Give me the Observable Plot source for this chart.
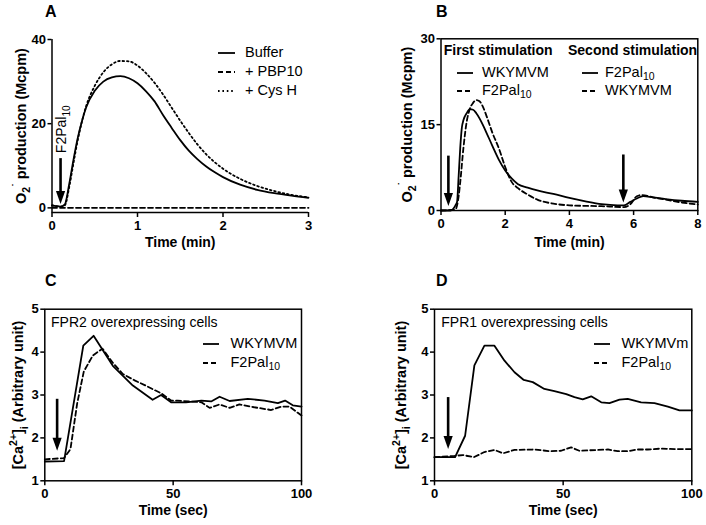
<!DOCTYPE html>
<html><head><meta charset="utf-8">
<script src="https://cdn.jsdelivr.net/npm/d3@7"></script>
<script src="https://cdn.jsdelivr.net/npm/@observablehq/plot@0.6"></script>
<style>
body{margin:0;background:#fff;}
#fig{position:relative;width:706px;height:525px;background:#fff;font-family:"Liberation Sans",Arial,Helvetica,sans-serif;color:#000;overflow:hidden;}
.t{position:absolute;white-space:nowrap;}
.t sub{font-size:72%;vertical-align:-0.28em;line-height:0;}
.sw{position:absolute;overflow:visible;}
</style></head><body><div id="fig"></div>
<script>
// ---------- Panel A data ----------
const aTime   = [0, 0.05, 0.1, 0.15, 0.2, 0.25, 0.3, 0.35, 0.4, 0.5, 0.6, 0.7, 0.8, 0.9, 1.0, 1.1, 1.2, 1.3, 1.4, 1.5, 1.6, 1.7, 1.8, 1.9, 2.0, 2.2, 2.4, 2.6, 2.8, 3.0];
const aBuffer = [0.6, 0.4, 0.3, 0.8, 5.5, 11.3, 16.5, 20.6, 23.9, 27.8, 30.0, 31.0, 31.3, 30.8, 29.6, 27.7, 25.3, 22.0, 19.0, 16.1, 13.6, 11.6, 9.9, 8.5, 7.3, 5.5, 4.3, 3.5, 2.9, 2.4];
const aCysH   = [0.6, 0.4, 0.3, 0.6, 4.8, 10.5, 16.0, 20.5, 24.2, 29.0, 32.2, 34.1, 34.9, 34.8, 33.8, 32.0, 29.7, 26.9, 23.8, 20.7, 17.8, 15.1, 12.8, 10.9, 9.3, 6.9, 5.2, 4.0, 3.1, 2.5];
const aPbpTime = [0, 0.5, 1, 1.5, 2, 2.5, 3];
const aPbp     = [0, 0, 0, 0, 0, 0, 0];
const aArrows  = [{t: 0.1, from: 11.7, to: 0.9}];
const aNote    = [{t: 0.115, v: 13, label: "F2Pal_{10}"}];
const aXTicks = [0, 1, 2, 3];
const aYTicks = [0, 20, 40];
const aXDomain = [0, 3];
const aYDomain = [-1.1, 40];

// ---------- Panel B data ----------
const bTimeSolid = [0, 0.3, 0.45, 0.5, 0.55, 0.6, 0.65, 0.7, 0.8, 0.9, 1.0, 1.1, 1.2, 1.3, 1.4, 1.6, 1.8, 2.0, 2.2, 2.4, 2.7, 3.0, 3.5, 4.0, 4.5, 5.0, 5.5, 5.7, 5.9, 6.1, 6.3, 6.6, 7.0, 7.5, 8.0];
const bSolid     = [0, 0, 0.9, 1.5, 6, 11, 14.5, 15.8, 17.0, 17.7, 17.6, 17.0, 16.1, 15.0, 13.8, 11.3, 8.9, 7.0, 5.6, 4.6, 4.0, 3.5, 2.9, 2.2, 1.6, 1.1, 0.9, 0.9, 1.5, 2.1, 2.5, 2.3, 2.0, 1.7, 1.5];
const bTimeDash  = [0, 0.45, 0.55, 0.6, 0.7, 0.8, 0.9, 1.0, 1.1, 1.2, 1.3, 1.4, 1.5, 1.6, 1.8, 2.0, 2.2, 2.4, 2.7, 3.0, 3.5, 4.0, 5.0, 5.7, 5.9, 6.1, 6.25, 6.6, 7.0, 7.5, 8.0];
const bDash      = [0, 0.2, 2.5, 5, 11, 15.5, 17.8, 18.8, 19.3, 19.1, 18.2, 16.8, 15.2, 13.6, 10.9, 7.6, 5.0, 3.9, 2.8, 1.9, 1.2, 0.9, 0.75, 0.6, 1.1, 2.5, 2.7, 2.3, 1.9, 1.4, 1.05];
const bArrows = [{t: 0.23, from: 9.5, to: 0.8}, {t: 5.68, from: 9.7, to: 1.4}];
const bXTicks = [0, 2, 4, 6, 8];
const bYTicks = [0, 15, 30];
const bXDomain = [0, 8];
const bYDomain = [0, 30];

// ---------- Panel C data ----------
const cTimeW = [0, 7.5, 15, 19, 26.5, 34.3, 42, 45.3, 49.2, 55, 61, 64.8, 68.1, 72, 79.1, 85.6, 90.8, 93.6, 96.6, 100];
const cWKY   = [1.45, 1.46, 4.15, 4.38, 3.68, 3.22, 2.89, 3.0, 2.83, 2.83, 2.87, 2.85, 2.96, 2.86, 2.91, 2.87, 2.81, 2.87, 2.76, 2.73];
const cTimeF = [0, 7.5, 10, 12.6, 15.2, 18.7, 22.5, 26.5, 30.4, 35, 38.9, 45.3, 49.2, 51.8, 61, 64.2, 68.1, 72, 75.8, 81, 88.2, 92.1, 95.3, 100];
const cF2    = [1.5, 1.53, 1.74, 2.8, 3.55, 3.92, 4.08, 3.75, 3.49, 3.34, 3.23, 3.04, 2.87, 2.87, 2.83, 2.7, 2.78, 2.7, 2.78, 2.72, 2.65, 2.73, 2.73, 2.52];
const cArrows = [{t: 4.8, from: 2.9, to: 1.7}];

// ---------- Panel D data ----------
const dTimeW = [0, 8, 11.9, 15.5, 19.4, 23.3, 27.2, 31.1, 34.7, 38.2, 42.7, 46.6, 51.2, 54.4, 57.6, 60.9, 64.8, 68, 71.9, 75.1, 80.3, 85.5, 90.7, 95.2, 100];
const dWKY   = [1.55, 1.55, 2.05, 3.69, 4.15, 4.15, 3.8, 3.53, 3.35, 3.30, 3.14, 3.09, 3.02, 2.95, 2.90, 2.97, 2.83, 2.81, 2.89, 2.91, 2.83, 2.81, 2.73, 2.64, 2.64];
const dTimeF = [0, 7.8, 11, 15.3, 19.4, 23.3, 26.6, 31.1, 38.9, 44.7, 49.2, 53.1, 56.3, 63.5, 67.4, 71.2, 75.1, 79, 82.9, 88.1, 93.3, 100];
const dF2    = [1.55, 1.58, 1.6, 1.55, 1.67, 1.72, 1.64, 1.72, 1.73, 1.69, 1.70, 1.78, 1.70, 1.72, 1.73, 1.69, 1.69, 1.73, 1.73, 1.75, 1.74, 1.74];
const dArrows = [{t: 5.3, from: 2.94, to: 1.74}];

const caXTicks = [0, 50, 100];
const caYTicks = [1, 2, 3, 4, 5];
const caXDomain = [0, 100];
const caYDomain = [1, 5];

// ---------- helpers ----------
const fig = document.getElementById("fig");
const FONT = '"Liberation Sans", Arial, Helvetica, sans-serif';
const DASH = "5,3";
const DOT = "1.6,2.8";
const rows = (xs, ys) => xs.map((x, i) => ({x, y: ys[i]}));
const headSymbol = {draw(ctx) { ctx.moveTo(0, 0); ctx.lineTo(-4.6, -13); ctx.lineTo(4.6, -13); ctx.closePath(); }};
const fmt = d => String(d);

function rich(root) {
  root.querySelectorAll("text").forEach(t => {
    const s = t.textContent;
    if (!/[_^]\{/.test(s)) return;
    const fs = parseFloat(getComputedStyle(t).fontSize) || 13;
    while (t.firstChild) t.removeChild(t.firstChild);
    let cur = 0;
    for (const p of s.split(/([_^]\{[^}]*\})/)) {
      if (!p) continue;
      const ts = document.createElementNS("http://www.w3.org/2000/svg", "tspan");
      let target = 0;
      if (p[0] === "_" || p[0] === "^") {
        ts.textContent = p.slice(2, -1);
        ts.setAttribute("font-size", (fs * 0.72) + "px");
        target = p[0] === "_" ? fs * 0.28 : -fs * 0.42;
      } else ts.textContent = p;
      if (target !== cur) { ts.setAttribute("dy", (target - cur) + "px"); cur = target; }
      t.appendChild(ts);
    }
  });
}

function makePanel(c) {
  const marks = [];
  if (c.box) marks.push(Plot.frame({stroke: "black", strokeWidth: 1.5}));
  else {
    marks.push(Plot.ruleX([c.xDomain[0]], {stroke: "black", strokeWidth: 1.5}));
    marks.push(Plot.ruleY([c.yDomain[0]], {stroke: "black", strokeWidth: 1.5}));
  }
  marks.push(Plot.axisX({ticks: c.xTicks, tickFormat: fmt, tickSize: 5, tickPadding: 3, strokeWidth: 1.5, label: null, fontSize: 13, fontWeight: "bold"}));
  marks.push(Plot.axisY({ticks: c.yTicks, tickFormat: fmt, tickSize: 4, tickPadding: 2, strokeWidth: 1.5, label: null, fontSize: 13, fontWeight: "bold"}));
  for (const s of c.series)
    marks.push(Plot.line(s.data, {x: "x", y: "y", stroke: "black", strokeWidth: 1.8, strokeDasharray: s.dash, curve: s.curve || "linear"}));
  marks.push(Plot.ruleX(c.arrows, {x: "t", y1: "from", y2: "to", stroke: "black", strokeWidth: 2.6, insetBottom: 8}));
  marks.push(Plot.dot(c.arrows, {x: "t", y: "to", symbol: headSymbol, fill: "black", stroke: "none"}));
  if (c.note) marks.push(Plot.text(c.note, {x: "t", y: "v", text: "label", rotate: -90, textAnchor: "start", lineAnchor: "middle", fontSize: 14, fontWeight: "normal"}));
  marks.push(Plot.text([c.xLabel], {text: d => d, frameAnchor: "bottom", textAnchor: "middle", lineAnchor: "middle", dy: c.xLabelDy, fontSize: 14, fontWeight: "bold"}));
  marks.push(Plot.text([c.yLabel], {text: d => d, frameAnchor: "left", textAnchor: "middle", lineAnchor: "middle", dx: c.yLabelDx, rotate: -90, fontSize: 14.5, fontWeight: "bold"}));
  const svg = Plot.plot({
    width: c.width, height: c.height,
    marginLeft: c.m[3], marginRight: c.m[1], marginTop: c.m[0], marginBottom: c.m[2],
    x: {domain: c.xDomain}, y: {domain: c.yDomain},
    style: {fontFamily: FONT, fontSize: "13px", fontWeight: "bold", color: "black", background: "transparent", overflow: "visible"},
    marks
  });
  svg.style.position = "absolute";
  svg.style.left = c.left + "px";
  svg.style.top = c.top + "px";
  fig.appendChild(svg);
  rich(svg);
}

function addText(x, baseline, html, size = 14, bold = false) {
  const el = document.createElement("div");
  el.className = "t";
  const L = Math.round(size * 1.2);
  el.style.left = x + "px";
  el.style.top = (baseline - ((L - 1.117 * size) / 2 + 0.905 * size)) + "px";
  el.style.fontSize = size + "px";
  el.style.lineHeight = L + "px";
  el.style.fontWeight = bold ? "bold" : "normal";
  el.innerHTML = html;
  fig.appendChild(el);
}
function addSwatch(x1, x2, y, dash) {
  const ns = "http://www.w3.org/2000/svg";
  const s = document.createElementNS(ns, "svg");
  s.setAttribute("class", "sw");
  s.setAttribute("width", x2 - x1);
  s.setAttribute("height", 6);
  s.style.left = x1 + "px";
  s.style.top = (y - 3) + "px";
  const l = document.createElementNS(ns, "line");
  l.setAttribute("x1", 0); l.setAttribute("x2", x2 - x1);
  l.setAttribute("y1", 3); l.setAttribute("y2", 3);
  l.setAttribute("stroke", "black"); l.setAttribute("stroke-width", 1.8);
  if (dash) l.setAttribute("stroke-dasharray", dash);
  s.appendChild(l);
  fig.appendChild(s);
}
function legendItem(x1, x2, tx, cy, dash, html) {
  addSwatch(x1, x2, cy, dash);
  addText(tx, cy + 5, html, 14.5, false);
}

const O2label = "O_{2}^{˙} production (Mcpm)";
const CaLabel = "[Ca^{2+}]_{i} (Arbitrary unit)";

// ---------- Panel A ----------
makePanel({
  left: 0, top: 0, width: 353, height: 262, m: [39, 45, 50, 51.5], box: false,
  xDomain: aXDomain, yDomain: aYDomain, xTicks: aXTicks, yTicks: aYTicks,
  series: [
    {data: rows(aPbpTime, aPbp), dash: DASH},
    {data: rows(aTime, aCysH), dash: DOT, curve: "monotone-x"},
    {data: rows(aTime, aBuffer), curve: "monotone-x"}
  ],
  arrows: aArrows, note: aNote,
  xLabel: "Time (min)", xLabelDy: 30, yLabel: O2label, yLabelDx: -30.5
});
addText(45, 16.7, "A", 16, true);
legendItem(218, 235, 245, 53, null, "Buffer");
legendItem(218, 235, 245, 72, DASH, "+ PBP10");
legendItem(218, 235, 245, 91, DOT, "+ Cys H");

// ---------- Panel B ----------
makePanel({
  left: 353, top: 0, width: 353, height: 262, m: [38.3, 8.7, 52, 87.5], box: true,
  xDomain: bXDomain, yDomain: bYDomain, xTicks: bXTicks, yTicks: bYTicks,
  series: [
    {data: rows(bTimeDash, bDash), dash: DASH, curve: "monotone-x"},
    {data: rows(bTimeSolid, bSolid), curve: "monotone-x"}
  ],
  arrows: bArrows,
  xLabel: "Time (min)", xLabelDy: 32, yLabel: O2label, yLabelDx: -34
});
addText(436, 16.7, "B", 16, true);
addText(443.7, 55.5, "First stimulation", 14, true);
addText(568, 55.5, "Second stimulation", 14, true);
legendItem(457, 473, 482, 72.5, null, "WKYMVM");
legendItem(457, 473, 482, 90.5, DASH, "F2Pal<sub>10</sub>");
legendItem(582, 598, 605, 72.5, null, "F2Pal<sub>10</sub>");
legendItem(582, 598, 605, 90.5, DASH, "WKYMVM");

// ---------- Panel C ----------
makePanel({
  left: 0, top: 262, width: 353, height: 263, m: [46.7, 52, 44.7, 44.3], box: true,
  xDomain: caXDomain, yDomain: caYDomain, xTicks: caXTicks, yTicks: caYTicks,
  series: [
    {data: rows(cTimeF, cF2), dash: DASH},
    {data: rows(cTimeW, cWKY)}
  ],
  arrows: cArrows,
  xLabel: "Time (sec)", xLabelDy: 29.5, yLabel: CaLabel, yLabelDx: -26
});
addText(45, 286, "C", 16, true);
addText(51, 327.5, "FPR2 overexpressing cells", 14, false);
legendItem(203, 219, 230.5, 343.5, null, "WKYMVM");
legendItem(203, 219, 230.5, 363, DASH, "F2Pal<sub>10</sub>");

// ---------- Panel D ----------
makePanel({
  left: 353, top: 262, width: 353, height: 263, m: [46.7, 14.7, 44.7, 81], box: true,
  xDomain: caXDomain, yDomain: caYDomain, xTicks: caXTicks, yTicks: caYTicks,
  series: [
    {data: rows(dTimeF, dF2), dash: DASH},
    {data: rows(dTimeW, dWKY)}
  ],
  arrows: dArrows,
  xLabel: "Time (sec)", xLabelDy: 29.5, yLabel: CaLabel, yLabelDx: -33.5
});
addText(436, 286, "D", 16, true);
addText(441.3, 327.5, "FPR1 overexpressing cells", 14, false);
legendItem(594, 610, 621.5, 343.5, null, "WKYMVm");
legendItem(594, 610, 621.5, 363, DASH, "F2Pal<sub>10</sub>");
</script></body></html>
